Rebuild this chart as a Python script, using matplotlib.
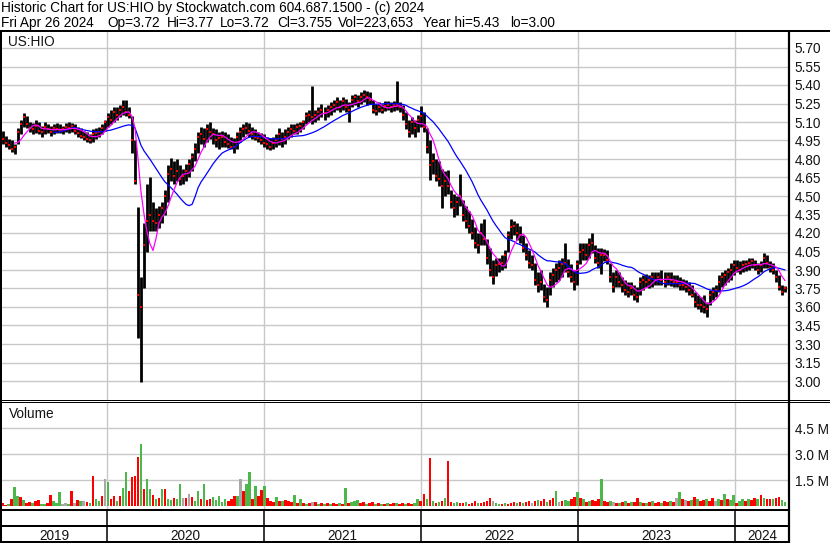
import numpy as np
import pandas as pd
import matplotlib
matplotlib.use("Agg")
import matplotlib.pyplot as plt
import matplotlib.dates as mdates

plt.rcParams['font.family'] = ['Liberation Sans', 'DejaVu Sans']

# ---------------- data ----------------
title_line1 = "Historic Chart for US:HIO by Stockwatch.com 604.687.1500 - (c) 2024"
title_line2_fields = ["Fri Apr 26 2024", "Op=3.72", "Hi=3.77", "Lo=3.72", "Cl=3.755",
                      "Vol=223,653", "Year hi=5.43", "lo=3.00"]
symbol = "US:HIO"

week_dates = pd.date_range(end="2024-04-26", periods=262, freq="W-FRI")

low = [
    4.95, 4.92, 4.90, 4.88, 4.86, 4.84, 4.92, 5.00, 5.06, 5.05,
    5.02, 5.00, 5.01, 5.00, 4.98, 5.00, 5.01, 4.99, 5.00, 5.01,
    5.01, 5.00, 5.02, 5.01, 5.02, 5.00, 4.98, 4.97, 4.95, 4.94,
    4.93, 4.94, 4.96, 4.98, 5.00, 5.03, 5.06, 5.08, 5.10, 5.12,
    5.14, 5.16, 5.15, 5.13, 4.85, 4.60, 3.35, 2.99, 3.75, 4.05,
    4.22, 4.22, 4.22, 4.24, 4.28, 4.35, 4.45, 4.62, 4.60, 4.62,
    4.59, 4.60, 4.62, 4.65, 4.70, 4.78, 4.85, 4.92, 4.90, 4.94,
    4.96, 4.92, 4.90, 4.88, 4.90, 4.90, 4.89, 4.88, 4.85, 4.88,
    4.94, 4.98, 5.00, 4.98, 4.96, 4.95, 4.94, 4.92, 4.90, 4.88,
    4.87, 4.88, 4.90, 4.91, 4.90, 4.92, 4.96, 4.98, 5.00, 5.00,
    5.02, 5.04, 5.08, 5.10, 5.08, 5.10, 5.12, 5.14, 5.12, 5.14,
    5.16, 5.18, 5.20, 5.18, 5.20, 5.18, 5.10, 5.22, 5.24, 5.22,
    5.25, 5.26, 5.24, 5.25, 5.17, 5.16, 5.18, 5.17, 5.19, 5.20,
    5.18, 5.19, 5.20, 5.18, 5.12, 5.04, 4.98, 5.00, 4.98, 5.02,
    5.06, 5.02, 4.85, 4.63, 4.68, 4.62, 4.58, 4.40, 4.50, 4.52,
    4.40, 4.33, 4.35, 4.42, 4.30, 4.24, 4.20, 4.15, 4.08, 4.04,
    4.10, 4.10, 3.95, 3.85, 3.79, 3.85, 3.88, 3.90, 3.92, 4.05,
    4.15, 4.18, 4.14, 4.12, 4.05, 3.98, 3.92, 3.90, 3.78, 3.72,
    3.74, 3.64, 3.60, 3.70, 3.76, 3.80, 3.82, 3.84, 3.88, 3.84,
    3.80, 3.74, 3.78, 3.95, 3.98, 3.98, 4.00, 4.04, 3.96, 3.92,
    3.87, 3.97, 3.95, 3.80, 3.72, 3.76, 3.76, 3.72, 3.70, 3.68,
    3.70, 3.66, 3.64, 3.70, 3.74, 3.76, 3.75, 3.76, 3.78, 3.78,
    3.78, 3.76, 3.78, 3.77, 3.76, 3.76, 3.74, 3.74, 3.72, 3.70,
    3.68, 3.60, 3.58, 3.56, 3.55, 3.52, 3.62, 3.66, 3.68, 3.72,
    3.76, 3.78, 3.80, 3.82, 3.86, 3.88, 3.87, 3.88, 3.89, 3.90,
    3.92, 3.90, 3.87, 3.88, 3.92, 3.92, 3.88, 3.87, 3.80, 3.74,
    3.70, 3.72,
]
high = [
    5.06, 5.03, 4.99, 4.96, 4.95, 4.92, 5.05, 5.12, 5.17, 5.15,
    5.10, 5.09, 5.12, 5.10, 5.07, 5.10, 5.08, 5.07, 5.08, 5.09,
    5.08, 5.07, 5.09, 5.10, 5.09, 5.08, 5.06, 5.05, 5.03, 5.02,
    5.00, 5.04, 5.05, 5.06, 5.08, 5.12, 5.17, 5.20, 5.22, 5.22,
    5.24, 5.28, 5.28, 5.22, 5.15, 4.95, 4.41, 3.84, 4.28, 4.60,
    4.65, 4.45, 4.40, 4.42, 4.45, 4.55, 4.75, 4.81, 4.78, 4.80,
    4.75, 4.72, 4.76, 4.80, 4.85, 4.93, 5.02, 5.06, 5.05, 5.08,
    5.10, 5.05, 5.04, 5.02, 5.03, 5.02, 5.00, 4.98, 4.97, 5.02,
    5.06, 5.08, 5.10, 5.09, 5.06, 5.04, 5.02, 5.01, 5.00, 4.98,
    4.97, 4.98, 5.00, 5.05, 5.02, 5.04, 5.06, 5.08, 5.08, 5.09,
    5.10, 5.12, 5.18, 5.20, 5.39, 5.20, 5.22, 5.25, 5.22, 5.24,
    5.26, 5.28, 5.30, 5.28, 5.30, 5.29, 5.26, 5.32, 5.33, 5.32,
    5.34, 5.36, 5.35, 5.34, 5.28, 5.25, 5.26, 5.25, 5.27, 5.27,
    5.26, 5.27, 5.43, 5.26, 5.24, 5.18, 5.12, 5.14, 5.12, 5.16,
    5.23, 5.18, 5.05, 4.95, 4.85, 4.80, 4.78, 4.72, 4.70, 4.71,
    4.55, 4.52, 4.50, 4.68, 4.47, 4.42, 4.38, 4.31, 4.25, 4.20,
    4.28, 4.31, 4.15, 4.08, 3.98, 4.00, 4.00, 4.02, 4.06, 4.22,
    4.31, 4.30, 4.28, 4.26, 4.18, 4.12, 4.06, 4.02, 3.96, 3.88,
    3.90, 3.79, 3.76, 3.88, 3.92, 3.96, 3.98, 4.00, 4.12, 3.99,
    3.95, 3.90, 3.98, 4.12, 4.12, 4.12, 4.16, 4.20, 4.10, 4.08,
    4.08, 4.07, 4.06, 3.96, 3.88, 3.90, 3.88, 3.84, 3.82, 3.80,
    3.80, 3.78, 3.76, 3.84, 3.86, 3.87, 3.86, 3.88, 3.88, 3.88,
    3.90, 3.88, 3.88, 3.88, 3.86, 3.86, 3.84, 3.83, 3.82, 3.80,
    3.78, 3.72, 3.70, 3.68, 3.70, 3.64, 3.74, 3.76, 3.78, 3.86,
    3.88, 3.90, 3.92, 3.96, 3.98, 3.98, 3.97, 3.98, 3.98, 4.00,
    4.00, 3.98, 3.96, 3.97, 4.04, 4.02, 3.97, 3.96, 3.90, 3.86,
    3.78, 3.77,
]
close = [
    5.00, 4.96, 4.93, 4.91, 4.88, 4.90, 5.02, 5.08, 5.14, 5.08,
    5.05, 5.04, 5.07, 5.03, 5.02, 5.06, 5.04, 5.02, 5.05, 5.04,
    5.03, 5.04, 5.06, 5.05, 5.07, 5.03, 5.01, 4.99, 4.98, 4.96,
    4.95, 5.00, 5.01, 5.02, 5.05, 5.10, 5.14, 5.12, 5.18, 5.16,
    5.20, 5.22, 5.18, 5.16, 4.95, 4.62, 3.70, 3.60, 4.10, 4.30,
    4.35, 4.30, 4.28, 4.35, 4.40, 4.50, 4.68, 4.72, 4.66, 4.70,
    4.64, 4.66, 4.70, 4.76, 4.82, 4.88, 4.98, 5.00, 4.96, 5.04,
    5.02, 5.00, 4.95, 4.97, 4.98, 4.94, 4.92, 4.90, 4.90, 4.98,
    5.02, 5.04, 5.05, 5.03, 5.00, 4.98, 4.97, 4.95, 4.93, 4.92,
    4.90, 4.93, 4.95, 5.00, 4.96, 4.98, 5.02, 5.04, 5.03, 5.06,
    5.07, 5.10, 5.15, 5.16, 5.14, 5.16, 5.18, 5.20, 5.17, 5.20,
    5.22, 5.24, 5.26, 5.22, 5.27, 5.22, 5.20, 5.28, 5.30, 5.27,
    5.30, 5.32, 5.30, 5.28, 5.20, 5.19, 5.22, 5.20, 5.23, 5.24,
    5.22, 5.24, 5.24, 5.22, 5.16, 5.08, 5.02, 5.10, 5.05, 5.12,
    5.15, 5.06, 4.90, 4.75, 4.78, 4.66, 4.64, 4.58, 4.62, 4.58,
    4.45, 4.40, 4.45, 4.50, 4.35, 4.30, 4.26, 4.20, 4.12, 4.10,
    4.20, 4.15, 4.00, 3.90, 3.84, 3.94, 3.95, 3.96, 4.02, 4.18,
    4.25, 4.26, 4.20, 4.18, 4.08, 4.02, 3.96, 3.94, 3.82, 3.78,
    3.80, 3.68, 3.66, 3.82, 3.86, 3.90, 3.92, 3.95, 3.96, 3.88,
    3.84, 3.80, 3.95, 4.05, 4.06, 4.02, 4.10, 4.12, 4.00, 3.96,
    4.02, 4.02, 3.98, 3.84, 3.76, 3.84, 3.80, 3.78, 3.74, 3.72,
    3.75, 3.70, 3.68, 3.80, 3.82, 3.80, 3.82, 3.84, 3.82, 3.84,
    3.82, 3.80, 3.84, 3.82, 3.80, 3.80, 3.78, 3.78, 3.76, 3.74,
    3.70, 3.64, 3.62, 3.62, 3.60, 3.58, 3.70, 3.72, 3.74, 3.80,
    3.84, 3.86, 3.88, 3.90, 3.94, 3.92, 3.90, 3.94, 3.95, 3.96,
    3.97, 3.94, 3.90, 3.94, 4.00, 3.96, 3.92, 3.90, 3.84, 3.76,
    3.72, 3.755,
]
volume_m = [
    0.15, 0.20, 0.10, 0.15, 0.40, 1.13, 0.60, 0.55, 0.35, 0.20,
    0.25, 0.20, 0.30, 0.35, 0.15, 0.15, 0.20, 0.65, 0.30, 0.20,
    0.80, 0.15, 0.20, 0.15, 0.90, 0.20, 0.35, 0.30, 0.30, 0.25,
    0.20, 1.75, 0.45, 0.30, 0.60, 1.60, 1.40, 0.40, 0.60, 0.30,
    0.60, 1.05, 2.00, 0.90, 1.70, 1.75, 2.85, 3.60, 1.00, 1.60,
    1.00, 0.65, 0.40, 0.50, 1.00, 1.00, 0.45, 0.35, 0.50, 0.40,
    1.30, 0.50, 0.50, 0.70, 0.55, 0.30, 0.90, 0.40, 1.30, 0.35,
    0.45, 0.55, 0.35, 0.60, 0.25, 0.40, 0.30, 0.45, 0.60, 0.60,
    1.60, 0.90, 1.30, 2.00, 0.45, 1.15, 0.60, 0.95, 1.20, 0.50,
    0.30, 0.25, 0.55, 0.30, 0.30, 0.35, 0.30, 0.25, 0.65, 0.20,
    0.45, 0.20, 0.15, 0.20, 0.25, 0.25, 0.15, 0.20, 0.15, 0.20,
    0.15, 0.20, 0.15, 0.20, 0.15, 1.05, 0.20, 0.25, 0.30, 0.35,
    0.20, 0.25, 0.15, 0.20, 0.25, 0.15, 0.20, 0.15, 0.15, 0.20,
    0.15, 0.20, 0.20, 0.15, 0.20, 0.15, 0.20, 0.15, 0.20, 0.45,
    0.30, 0.70, 0.45, 2.80, 0.30, 0.20, 0.25, 0.30, 0.50, 2.60,
    0.25, 0.20, 0.25, 0.20, 0.20, 0.25, 0.15, 0.20, 0.32, 0.20,
    0.20, 0.25, 0.30, 0.50, 0.30, 0.20, 0.15, 0.15, 0.20, 0.15,
    0.20, 0.25, 0.20, 0.25, 0.20, 0.25, 0.30, 0.20, 0.30, 0.35,
    0.30, 0.45, 0.25, 0.35, 0.50, 0.88, 0.25, 0.30, 0.35, 0.30,
    0.40, 0.55, 0.81, 0.50, 0.40, 0.25, 0.30, 0.35, 0.30, 0.45,
    1.60, 0.30, 0.25, 0.30, 0.25, 0.20, 0.20, 0.25, 0.30, 0.20,
    0.25, 0.25, 0.50, 0.25, 0.20, 0.20, 0.25, 0.30, 0.20, 0.25,
    0.20, 0.30, 0.25, 0.30, 0.25, 0.46, 0.81, 0.40, 0.35, 0.30,
    0.35, 0.55, 0.40, 0.30, 0.35, 0.45, 0.30, 0.50, 0.30, 0.40,
    0.35, 0.70, 0.40, 0.35, 0.67, 0.20, 0.30, 0.45, 0.30, 0.40,
    0.35, 0.50, 0.40, 0.67, 0.50, 0.45, 0.40, 0.45, 0.50, 0.55,
    0.35, 0.25,
]
# g = up day (green), r = down day (red), k = unchanged (grey)
volume_dir = (
    "grrgrggrgr" "rgrrggrrgg" "gkkgrkrgkr" "grggrkgrrg" "rggrrrrgrg"
    "grgrgrggrg" "gkrkrggrgr" "rgggggrrrg" "krggrgrrgr" "rrgrgrrrgr"
    "grgrkrgrgr" "grrgrgrggg" "rrgrrgrgrg" "rrgrrgrrgg" "rrgrgrgrgr"
    "rggrrgrrrg" "rrrrkggrgr" "rrgrgrrkrg" "rrgrrgkrgg" "rrgrgrgrrr"
    "grrgkrgrgr" "grrgrgrgrr" "grrgrkgrkr" "grgrrgrrkg" "rgrggrggrg"
    "rrgrgrrgrr" "gg"
)
price_ticks = [3.00, 3.15, 3.30, 3.45, 3.60, 3.75, 3.90, 4.05, 4.20, 4.35,
               4.50, 4.65, 4.80, 4.95, 5.10, 5.25, 5.40, 5.55, 5.70]
volume_ticks = [1.5e6, 3.0e6, 4.5e6]
volume_tick_labels = ["1.5 M", "3.0 M", "4.5 M"]
year_starts = pd.to_datetime(["2020-01-01", "2021-01-01", "2022-01-01",
                              "2023-01-01", "2024-01-01"])
year_labels = ["2019", "2020", "2021", "2022", "2023", "2024"]
ma_short_weeks = 6
ma_long_weeks = 19

assert len(low) == len(high) == len(close) == len(volume_m) == len(volume_dir) == len(week_dates)

# ---------------- layout ----------------
W, H = 830, 543
fig = plt.figure(figsize=(W / 100, H / 100), dpi=100)
fig.patch.set_facecolor("white")


def frac(x0, y0, x1, y1):
    return [x0 / W, 1 - y1 / H, (x1 - x0) / W, (y1 - y0) / H]


PLOT_L, PLOT_R = 2, 789
days_per_px = 365.25 / 157.0
x_left = mdates.date2num(pd.Timestamp("2020-01-01")) - (107 - PLOT_L) * days_per_px
x_right = x_left + (PLOT_R - PLOT_L) * days_per_px

grid_col = "#c8c8c8"
label_col = "#141414"
FS = 9.8

# price panel: y 32..400 ; 5.70 at y=48, 0.15 per 18.5 px
ppu = 18.5 / 0.15
ax = fig.add_axes(frac(PLOT_L, 32, PLOT_R, 400))
ax.set_xlim(x_left, x_right)
ax.set_ylim(3.00 - (400 - 381) / ppu, 5.70 + (48 - 32) / ppu)
ax.set_yticks(price_ticks)
ax.set_yticklabels([f"{v:.2f}" for v in price_ticks])
ax.yaxis.tick_right()
ax.tick_params(axis="y", length=0, pad=4, labelsize=FS, labelcolor=label_col)
ax.set_xticks(mdates.date2num(year_starts))
ax.tick_params(axis="x", length=0, labelbottom=False)
ax.grid(True, color=grid_col, lw=1.0, zorder=0)
ax.set_axisbelow(True)
for s in ax.spines.values():
    s.set_visible(False)

xd = mdates.date2num(week_dates)
ax.vlines(xd, low, high, color="black", lw=2.0, zorder=2)
ax.plot(xd, close, ls="none", marker="s", ms=1.5, mew=0, color="#ff0000", zorder=3)
close_s = pd.Series(close)
ax.plot(xd, close_s.rolling(ma_long_weeks).mean(), color="#0000ff", lw=0.9, zorder=4)
ax.plot(xd, close_s.rolling(ma_short_weeks).mean(), color="#ff00ff", lw=0.9, zorder=5)

# volume panel: y 403..509, 0 at y=506.3, 1.5M per 26 px
vpu = 26 / 1.5e6
axv = fig.add_axes(frac(PLOT_L, 403, PLOT_R, 509))
axv.set_xlim(x_left, x_right)
axv.set_ylim(-(509 - 506.3) / vpu, (506.3 - 403) / vpu)
axv.set_yticks(volume_ticks)
axv.set_yticklabels(volume_tick_labels)
axv.yaxis.tick_right()
axv.tick_params(axis="y", length=0, pad=4, labelsize=FS, labelcolor=label_col)
axv.set_xticks(mdates.date2num(year_starts))
axv.tick_params(axis="x", length=0, labelbottom=False)
axv.grid(True, color=grid_col, lw=1.0, zorder=0)
axv.set_axisbelow(True)
for s in axv.spines.values():
    s.set_visible(False)
cmap = {"g": "#4cb84c", "r": "#ff0000", "k": "#a8a8a8"}
axv.bar(xd, np.array(volume_m) * 1e6, width=6.0, bottom=0,
        color=[cmap[c] for c in volume_dir], linewidth=0, zorder=2)

# date panel
axd = fig.add_axes(frac(PLOT_L, 509, PLOT_R, 543))
axd.set_xlim(x_left, x_right)
axd.set_ylim(0, 1)
axd.axis("off")
bounds = [x_left] + list(mdates.date2num(year_starts)) + [x_right]
for b in mdates.date2num(year_starts):
    axd.axvline(b, color="black", lw=1.1)
for i, lab in enumerate(year_labels):
    axd.text((bounds[i] + bounds[i + 1]) / 2, 0.1, lab, ha="center", va="baseline",
             fontsize=FS, color=label_col)

# overlay for frame lines and header text (pixel coords)
ov = fig.add_axes([0, 0, 1, 1], zorder=10)
ov.set_xlim(0, W)
ov.set_ylim(H, 0)
ov.axis("off")
ov.patch.set_alpha(0)


def hline(y, x0, x1, px):
    ov.plot([x0, x1], [y, y], color="black", lw=px * 0.72, solid_capstyle="butt")


def vline(x, y0, y1, px):
    ov.plot([x, x], [y0, y1], color="black", lw=px * 0.72, solid_capstyle="butt")


hline(31, 0, W, 2)
vline(1, 30, H, 2)
vline(789, 30, H, 2.2)
hline(400.4, 0, W, 1)
hline(402.4, 0, W, 1)
hline(509.5, 0, 789, 2)
hline(526.4, 0, 789, 2)
hline(542, 0, 789, 2)

ov.text(1, 12.3, title_line1, fontsize=FS, color="black", va="baseline", ha="left")
line2_x = [1, 107, 167, 220, 277, 338, 423, 510]
for fx, txt in zip(line2_x, title_line2_fields):
    ov.text(fx, 27.3, txt, fontsize=FS, color="black", va="baseline", ha="left")
ov.text(8, 45.8, symbol, fontsize=FS, color=label_col, va="baseline", ha="left")
ov.text(9, 417.8, "Volume", fontsize=FS, color=label_col, va="baseline", ha="left")

fig.savefig("out.png", dpi=100, facecolor="white")
